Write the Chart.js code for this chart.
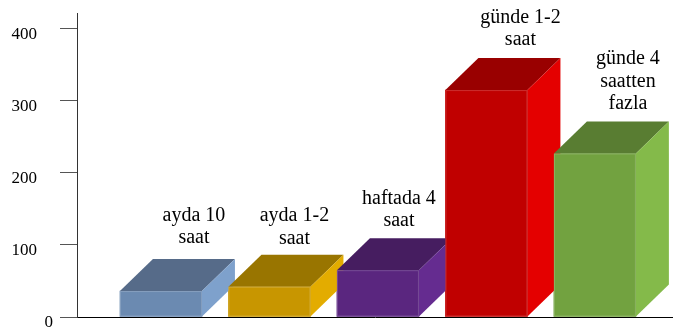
<!DOCTYPE html>
<html>
<head>
<meta charset="utf-8">
<script src="https://cdn.jsdelivr.net/npm/chart.js@4/dist/chart.umd.min.js"></script>
<style>
  html, body { margin: 0; padding: 0; background: #fff; }
  #wrap { width: 673px; height: 331px; position: relative; }
</style>
</head>
<body>
<div id="wrap"><canvas id="c"></canvas></div>
<script>
// Categories (each entry is the label split into lines)
const categories = [
  ['ayda 10', 'saat'],
  ['ayda 1-2', 'saat'],
  ['haftada 4', 'saat'],
  ['günde 1-2', 'saat'],
  ['günde 4', 'saatten', 'fazla']
];
// Series values
const values = [36, 42, 65, 315, 227];
// Value-axis tick labels
const yTicks = [0, 100, 200, 300, 400];

// Face colours of each box: front, top, right side
const frontColors = ['#6B8AB1', '#C89600', '#5A267F', '#C00000', '#72A240'];
const topColors   = ['#566B89', '#997500', '#461D60', '#990000', '#597D32'];
const sideColors  = ['#7EA1CC', '#E3AC00', '#652C90', '#E40000', '#84BA4A'];

// Box depth (oblique projection) and label placement tweaks
const DEPTH_X = 33, DEPTH_Y = 32;
const labelDx  = [33, 25, 21, 34, 33];
const labelGap = [16, 11, 12, 13, 12];
const LINE_H = 22.5;
const SERIF = '"Liberation Serif", "Times New Roman", serif';

const boxes3d = {
  id: 'boxes3d',
  afterDatasetsDraw(chart) {
    const ctx = chart.ctx;
    const meta = chart.getDatasetMeta(0);
    ctx.save();
    meta.data.forEach((bar, i) => {
      const p = bar.getProps(['x', 'y', 'base', 'width'], true);
      const l = p.x - p.width / 2, r = p.x + p.width / 2;
      const top = p.y, bot = p.base;
      // top face
      ctx.fillStyle = topColors[i];
      ctx.beginPath();
      ctx.moveTo(l, top);
      ctx.lineTo(l + DEPTH_X, top - DEPTH_Y);
      ctx.lineTo(r + DEPTH_X, top - DEPTH_Y);
      ctx.lineTo(r, top);
      ctx.closePath();
      ctx.fill();
      // right face
      ctx.fillStyle = sideColors[i];
      ctx.beginPath();
      ctx.moveTo(r, top);
      ctx.lineTo(r + DEPTH_X, top - DEPTH_Y);
      ctx.lineTo(r + DEPTH_X, bot - DEPTH_Y);
      ctx.lineTo(r, bot);
      ctx.closePath();
      ctx.fill();
      // front face with a faint light rim
      ctx.fillStyle = frontColors[i];
      ctx.fillRect(l, top, p.width, bot - top);
      ctx.strokeStyle = 'rgba(255,255,255,0.18)';
      ctx.lineWidth = 1;
      ctx.strokeRect(l + 0.5, top + 0.5, p.width - 1, bot - top - 1);
    });
    // category labels above each box
    ctx.fillStyle = '#000';
    ctx.font = '20px ' + SERIF;
    ctx.textAlign = 'center';
    ctx.textBaseline = 'alphabetic';
    meta.data.forEach((bar, i) => {
      const p = bar.getProps(['x', 'y'], true);
      const lines = categories[i];
      const cx = p.x + labelDx[i];
      const lastBase = p.y - DEPTH_Y - labelGap[i];
      lines.forEach((t, k) => {
        ctx.fillText(t, cx, lastBase - (lines.length - 1 - k) * LINE_H);
      });
    });
    // zero label sits just below the baseline, nearer the axis
    const ys = chart.scales.y;
    ctx.font = '17px ' + SERIF;
    ctx.textAlign = 'right';
    ctx.textBaseline = 'middle';
    ctx.fillText(String(yTicks[0]), 53, ys.getPixelForValue(yTicks[0]) + 6);
    ctx.restore();
  }
};

const noPad = s => { s.paddingTop = 0; s.paddingBottom = 0; s.paddingLeft = 0; s.paddingRight = 0; };

new Chart(document.getElementById('c'), {
  type: 'bar',
  data: {
    datasets: [{
      data: values.map((v, i) => ({ x: i, y: v })),
      backgroundColor: frontColors,
      borderWidth: 0,
      barThickness: 82
    }]
  },
  options: {
    responsive: true,
    maintainAspectRatio: false,
    animation: false,
    events: [],
    layout: { padding: { top: 13, left: 0, right: 0, bottom: 0 } },
    plugins: { legend: { display: false }, tooltip: { enabled: false } },
    scales: {
      x: {
        type: 'linear',
        offset: false,
        min: -0.774,
        max: 4.72,
        afterBuildTicks: s => { s.ticks = values.map((v, i) => ({ value: i })); },
        afterFit: s => { s.height = 14; noPad(s); },
        ticks: { display: false },
        grid: { display: false, drawTicks: false },
        border: { display: true, color: '#000', width: 1 }
      },
      y: {
        type: 'linear',
        min: 0,
        max: 422,
        afterBuildTicks: s => { s.ticks = yTicks.map(v => ({ value: v })); },
        afterFit: s => { s.width = 77; noPad(s); },
        ticks: {
          padding: 23,
          labelOffset: 6,
          color: '#000',
          font: { family: SERIF, size: 17 },
          callback: v => (v === yTicks[0] ? '' : String(v))
        },
        grid: { drawOnChartArea: false, drawTicks: true, tickLength: 17, color: '#555', lineWidth: 1 },
        border: { display: true, color: '#333', width: 1 }
      }
    }
  },
  plugins: [boxes3d]
});
</script>
</body>
</html>
